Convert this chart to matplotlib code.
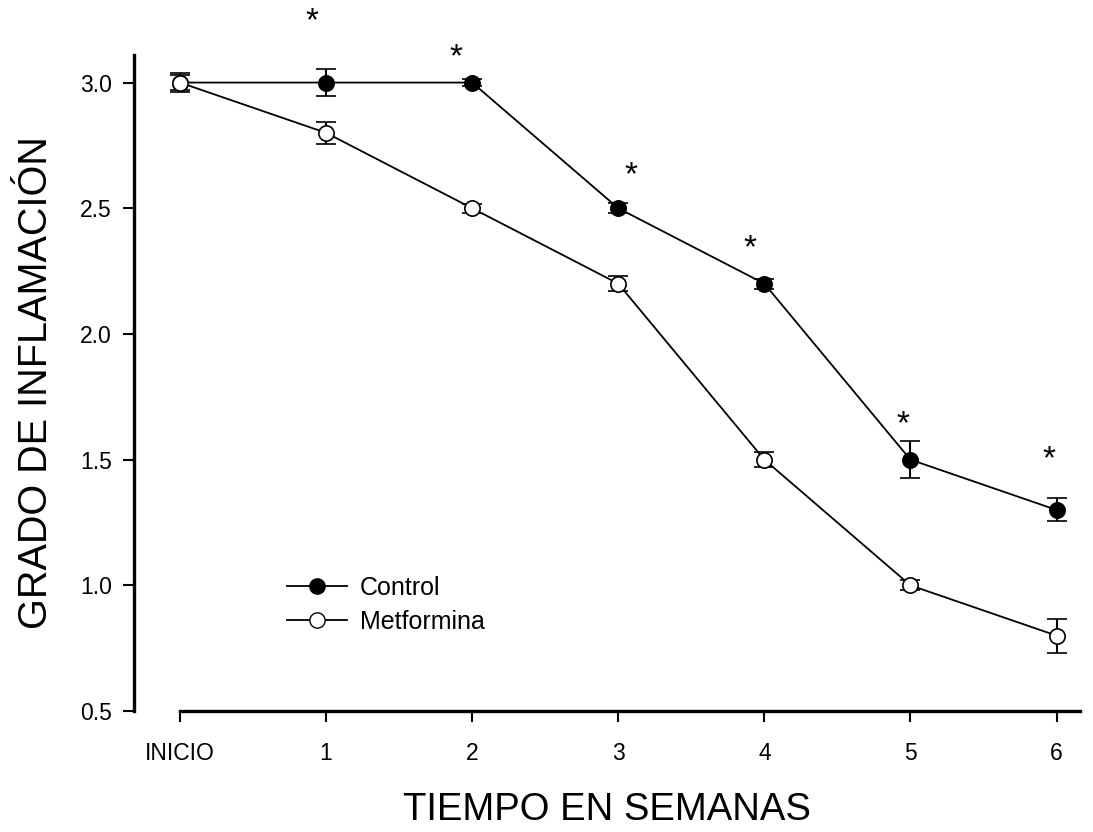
import matplotlib
matplotlib.use("Agg")
import matplotlib.pyplot as plt
from matplotlib.lines import Line2D

plt.rcParams['font.family'] = ['Liberation Sans', 'DejaVu Sans']

tick_labels = ["INICIO", "1", "2", "3", "4", "5", "6"]
weeks = [0, 1, 2, 3, 4, 5, 6]
control = [3.0, 3.0, 3.0, 2.5, 2.2, 1.5, 1.3]
control_err = [0.03, 0.054, 0.015, 0.02, 0.02, 0.074, 0.046]
metformina = [3.0, 2.8, 2.5, 2.2, 1.5, 1.0, 0.8]
metformina_err = [0.038, 0.044, 0.018, 0.03, 0.03, 0.02, 0.068]
star_x = [0.9, 1.89, 3.09, 3.9, 4.95, 5.95]
star_y = [3.24, 3.10, 2.63, 2.34, 1.64, 1.50]

fig = plt.figure(figsize=(10.93, 8.32), dpi=100)
ax = fig.add_axes([0.1226, 0.1454, 0.8654, 0.7886])

ax.errorbar(weeks, control, yerr=control_err, color='black', lw=1.3,
            marker='o', ms=11, mfc='black', mec='black', mew=1.2,
            capsize=7, capthick=1.5, elinewidth=1.5, zorder=2)
ax.errorbar(weeks, metformina, yerr=metformina_err, color='black', lw=1.3,
            marker='o', ms=11, mfc='white', mec='black', mew=1.2,
            capsize=7, capthick=1.5, elinewidth=1.5, zorder=3)

for sx, sy in zip(star_x, star_y):
    ax.text(sx, sy, "*", ha='center', va='center', fontsize=24, clip_on=False)

ax.set_xlim(-0.315, 6.16)
ax.set_ylim(0.5, 3.11)
ax.spines['top'].set_visible(False)
ax.spines['right'].set_visible(False)
ax.spines['left'].set_linewidth(2.4)
ax.spines['bottom'].set_linewidth(2.4)
ax.spines['bottom'].set_bounds(0, 6.16)

ax.set_xticks(weeks)
ax.set_xticklabels(tick_labels)
ax.set_yticks([0.5, 1.0, 1.5, 2.0, 2.5, 3.0])
ax.set_yticklabels(["0.5", "1.0", "1.5", "2.0", "2.5", "3.0"])
ax.tick_params(axis='both', direction='out', length=8, width=1.5, labelsize=16.5, pad=8)
ax.tick_params(axis='x', pad=14)

ax.set_xlabel("TIEMPO EN SEMANAS", fontsize=27.5, labelpad=20)
ax.set_ylabel("GRADO DE INFLAMACIÓN", fontsize=28.5, labelpad=18)

handles = [
    Line2D([], [], color='black', lw=1.3, marker='o', ms=11, mfc='black', mec='black'),
    Line2D([], [], color='black', lw=1.3, marker='o', ms=11, mfc='white', mec='black'),
]
ax.legend(handles, ["Control", "Metformina"], loc='upper left',
          bbox_to_anchor=(0.138, 0.24), frameon=False, fontsize=18,
          handlelength=2.4, handletextpad=0.5, labelspacing=0.4)

fig.savefig("out.png", dpi=100)
